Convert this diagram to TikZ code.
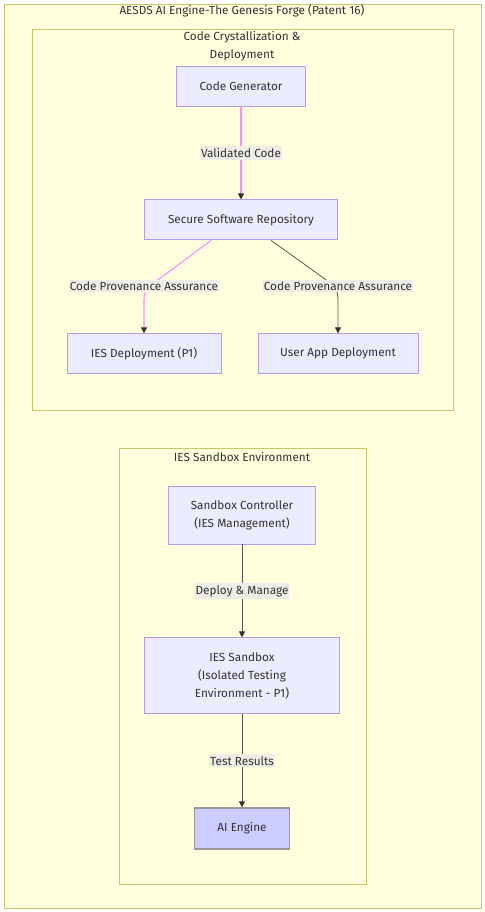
\documentclass[tikz,border=0pt]{standalone}
\usepackage{fontspec}
\setmainfont{Fira Sans}
\usepackage{xcolor}
\usetikzlibrary{arrows.meta,positioning}

\definecolor{clusterbg}{HTML}{FFFFDE}
\definecolor{clusterline}{HTML}{C8C86A}
\definecolor{nodebg}{HTML}{ECECFF}
\definecolor{nodeline}{HTML}{B39DEB}
\definecolor{enginebg}{HTML}{CCCCFF}
\definecolor{engineline}{HTML}{999999}
\definecolor{labelbg}{HTML}{EDEDE6}
\definecolor{textgray}{HTML}{333333}
\definecolor{edgegray}{HTML}{555555}
\definecolor{edgepink}{HTML}{FF8CFF}

\begin{document}
\begin{tikzpicture}[
    x=1bp, y=-1bp,
    node distance=93bp,
    font=\fontsize{11.8}{18}\selectfont,
    every node/.style={text=textgray},
    block/.style={rectangle, draw=nodeline, fill=nodebg, line width=0.9pt, align=center, minimum height=40bp},
    engine/.style={block, draw=engineline, fill=enginebg, line width=1.3pt},
    cluster/.style={draw=clusterline, fill=clusterbg, line width=1pt},
    lbl/.style={fill=labelbg, inner xsep=1pt, inner ysep=2pt},
    arrow/.style={-{Triangle[length=6pt,width=6pt,color=textgray]}, draw=edgegray, line width=0.8pt},
    pinkarrow/.style={arrow, draw=edgepink, line width=1.1pt}
]
    \useasboundingbox (0,0) rectangle (485,912);

    % groups
    \draw[cluster] (4,4) rectangle (481,908);
    \node (forge) at (242,11) {AESDS AI Engine-The Genesis Forge (Patent 16)};
    \draw[cluster] (32,29) rectangle (453,410);
    \node[align=center] (crystal) at (242,46) {Code Crystallization \&\\Deployment};
    \draw[cluster] (119,448) rectangle (366,884);
    \node (sandenv) at (242,457) {IES Sandbox Environment};

    % code crystallization
    \node[block, minimum width=129bp] (codegen) at (241,86) {Code Generator};
    \node[block, minimum width=193bp, below=of codegen] (repo) {Secure Software Repository};
    \node[block, minimum width=154bp, below=of repo, xshift=-97bp] (iesdep) {IES Deployment (P1)};
    \node[block, minimum width=160bp, below=of repo, xshift=97bp] (appdep) {User App Deployment};

    % sandbox
    \node[block, minimum width=147bp, minimum height=58bp] (ctrl) at (242,515) {Sandbox Controller\\(IES Management)};
    \node[block, minimum width=195bp, minimum height=76bp, below=of ctrl] (sandbox) {IES Sandbox\\(Isolated Testing\\Environment - P1)};
    \node[engine, minimum width=95bp, minimum height=41bp, below=of sandbox] (aiengine) {AI Engine};

    \draw[pinkarrow] (codegen) -- node[lbl] {Validated Code} (repo);
    \draw[pinkarrow] ([xshift=67bp]repo.south west) -- (166,274) .. controls (150,286) and (144,288) .. (144,300)
        node[lbl] at (144,286) {Code Provenance Assurance} -- (iesdep);
    \draw[arrow] ([xshift=-67bp]repo.south east) -- (318,274) .. controls (334,286) and (338,288) .. (338,300)
        node[lbl] at (338,286) {Code Provenance Assurance} -- (appdep);
    \draw[arrow] (ctrl) -- node[lbl] {Deploy \& Manage} (sandbox);
    \draw[arrow] (sandbox) -- node[lbl] {Test Results} (aiengine);
\end{tikzpicture}
\end{document}
